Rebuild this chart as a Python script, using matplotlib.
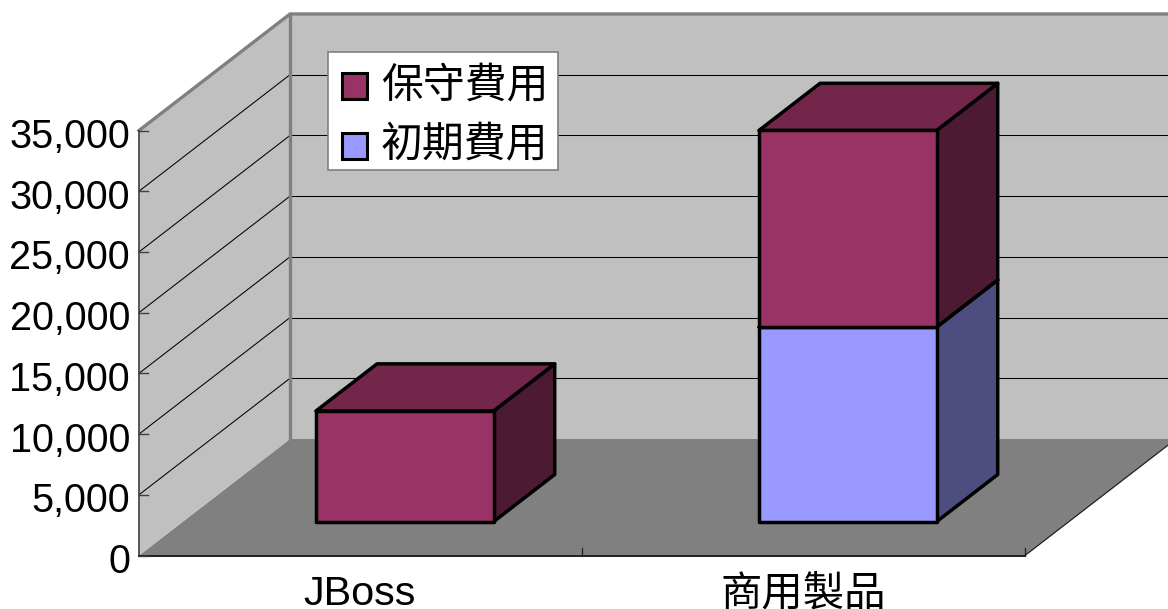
import matplotlib
matplotlib.use("Agg")
import matplotlib.pyplot as plt
from matplotlib.patches import Patch, Polygon

categories = ["JBoss", "商用製品"]
initial_cost = [0, 16030]
maintenance_cost = [9116, 16190]
y_ticks = [0, 5000, 10000, 15000, 20000, 25000, 30000, 35000]

# pixel layout of the fake 3d box
FIG_W, FIG_H = 1168, 609
LEFT, RIGHT, BASE, TOP = 139, 1025, 555.5, 130.5
DEPTH_X, DEPTH_Y = 151, 116.5
PX_CAT = (RIGHT - LEFT) / len(categories)
PX_VAL = (BASE - TOP) / y_ticks[-1]

BAR_W = 0.401
BAR_D0, BAR_D1 = 0.29, 0.695

FONT_LIST = ["Liberation Sans", "Noto Sans CJK TC"]
plt.rcParams["font.family"] = FONT_LIST

fig = plt.figure(figsize=(FIG_W / 100, FIG_H / 100), dpi=100)
ax = fig.add_axes([0, 0, 1, 1])
ax.set_xlim(-LEFT / PX_CAT, (FIG_W - LEFT) / PX_CAT)
ax.set_ylim(-(FIG_H - BASE) / PX_VAL, BASE / PX_VAL)
ax.axis("off")


def proj(x, val, depth=0.0):
    # oblique projection: depth 0 is front of the box, 1 is the back wall
    return (x + depth * DEPTH_X / PX_CAT, val + depth * DEPTH_Y / PX_VAL)


def face(pts, color, z, lw=2.5, edge="black"):
    ax.add_patch(Polygon(pts, closed=True, facecolor=color, edgecolor=edge,
                         linewidth=lw, joinstyle="round", zorder=z))


n = len(categories)
top_val = y_ticks[-1]

# floor and walls
face([proj(0, 0), proj(n, 0), proj(n, 0, 1), proj(0, 0, 1)], "#808080", 1, lw=0, edge="none")
far = (FIG_W - LEFT) / PX_CAT + 1
face([proj(0, 0, 1), (far, proj(0, 0, 1)[1]), (far, proj(0, top_val, 1)[1]), proj(0, top_val, 1)],
     "#c0c0c0", 1, lw=0, edge="none")
face([proj(0, 0), proj(0, 0, 1), proj(0, top_val, 1), proj(0, top_val)], "#c0c0c0", 1, lw=0, edge="none")

# gridlines
for t in y_ticks:
    if t == 0 or t == top_val:
        continue
    x0, y0 = proj(0, t)
    x1, y1 = proj(0, t, 1)
    ax.plot([x0, x1], [y0, y1], color="black", lw=0.75, zorder=2)
    ax.plot([x1, far], [y1, y1], color="black", lw=0.75, zorder=2)

# grey wall outline
gx0, gy0 = proj(0, top_val)
gx1, gy1 = proj(0, top_val, 1)
gx2, gy2 = proj(0, 0, 1)
ax.plot([gx0, gx1, far], [gy0, gy1, gy1], color="#808080", lw=2.4, zorder=3, solid_joinstyle="miter")
ax.plot([gx1, gx2], [gy1, gy2], color="#808080", lw=2.4, zorder=3)

# axes lines and ticks
ax.plot([0, 0], [0, top_val], color="#404040", lw=1.2, zorder=4)
ax.plot([0, n], [0, 0], color="#202020", lw=1.4, zorder=4)
ax.plot([n, proj(n, 0, 1)[0]], [0, proj(n, 0, 1)[1]], color="#202020", lw=0.9, zorder=4)
for t in y_ticks:
    ax.plot([0, 9 / PX_CAT], [t, t], color="#404040", lw=1.0, zorder=4)
    ax.text(-9 / PX_CAT, t - 2.5 / PX_VAL, f"{t:,}", ha="right", va="center_baseline", fontsize=28.5,
            color="black", zorder=6)
for i in range(1, n + 1):
    ax.plot([i, i], [0, 8 / PX_VAL], color="#202020", lw=0.9, zorder=4)
for i, name in enumerate(categories):
    ax.text(i + 0.5 - 0.001, -(590 - BASE) / PX_VAL, name, ha="center", va="center_baseline",
            fontsize=29.8, color="black", zorder=6)

# bars, bottom segment first
series = [(initial_cost, "#9999ff", "#4d4d80", "#73739f"),
          (maintenance_cost, "#993366", "#4d1a33", "#732649")]
for i in range(n):
    x0 = i + 0.5 - BAR_W / 2 + 0.001
    x1 = x0 + BAR_W
    bottom = 0
    for vals, front, side, roof in series:
        v = vals[i]
        if v == 0:
            continue
        vtop = bottom + v
        z = 5
        face([proj(x1, bottom, BAR_D0), proj(x1, bottom, BAR_D1),
              proj(x1, vtop, BAR_D1), proj(x1, vtop, BAR_D0)], side, z)
        face([proj(x0, vtop, BAR_D0), proj(x1, vtop, BAR_D0),
              proj(x1, vtop, BAR_D1), proj(x0, vtop, BAR_D1)], roof, z)
        face([proj(x0, bottom, BAR_D0), proj(x1, bottom, BAR_D0),
              proj(x1, vtop, BAR_D0), proj(x0, vtop, BAR_D0)], front, z)
        bottom = vtop

handles = [Patch(facecolor="#993366", edgecolor="black", linewidth=2.2),
           Patch(facecolor="#9999ff", edgecolor="black", linewidth=2.2)]
leg = ax.legend(handles, ["保守費用", "初期費用"], loc="upper left",
                bbox_to_anchor=(328 / FIG_W, 1 - 52 / FIG_H), bbox_transform=fig.transFigure,
                fontsize=30.2, fancybox=False, framealpha=1, edgecolor="#808080",
                borderaxespad=0, handlelength=0.58, handleheight=0.58,
                handletextpad=0.46, labelspacing=0.456, borderpad=0.22)
leg.get_frame().set_linewidth(1.2)
leg.set_zorder(7)
# legend rows sit low in their box
for txt in leg.get_texts():
    txt.set_position((0, -6.5))
for patch in leg.get_patches():
    patch.set_y(patch.get_y() - 6.5)
    patch.set_x(patch.get_x() + 3.6)

fig.savefig("out.png", dpi=100)
